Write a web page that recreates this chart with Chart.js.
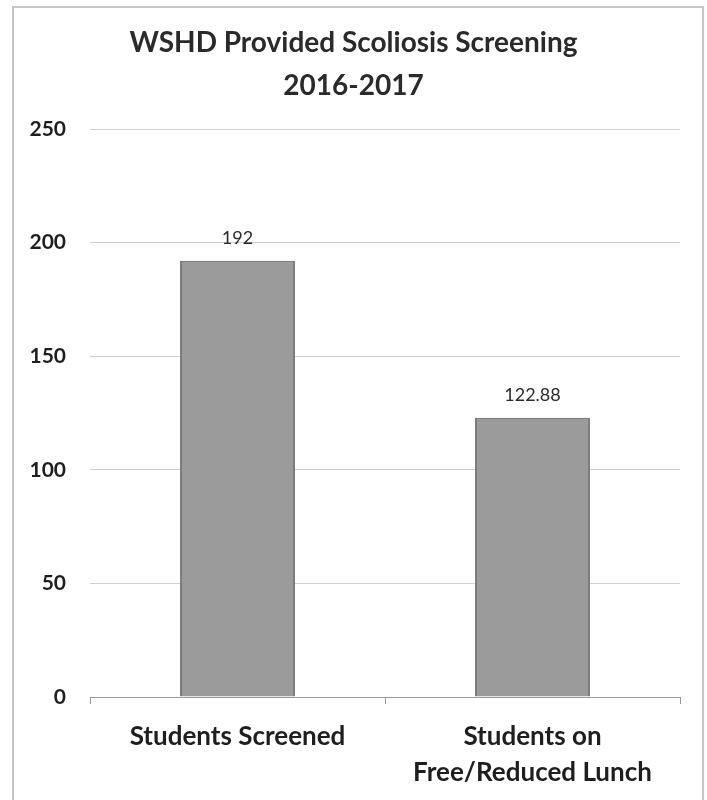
<!DOCTYPE html>
<html lang="en">
<head>
    <meta charset="UTF-8">
    <title>WSHD Provided Scoliosis Screening 2016-2017</title>
    <style>
        body {
            margin: 0;
            padding: 0;
            background: #fff;
            font-family: Lato, "Open Sans", Arial, sans-serif;
        }

        /* thin grey frame round the chart */
        .frame {
            position: absolute;
            left: 12px;
            top: 6px;
            width: 688px;
            height: 900px;
            border: 2px solid #c6c6c6;
        }

        .chart-box {
            position: absolute;
            left: 0;
            top: 0;
            width: 707px;
            height: 800px;
        }
    </style>
</head>
<body>
    <div class="frame"></div>
    <div class="chart-box">
        <canvas id="screeningChart" width="707" height="800"></canvas>
    </div>

    <script src="https://cdn.jsdelivr.net/npm/chart.js"></script>
    <script>
        // Chart data
        const titleLines = ['WSHD Provided Scoliosis Screening', '2016-2017'];
        const categories = [['Students Screened'], ['Students on', 'Free/Reduced Lunch']];
        const studentCounts = [192, 122.88];
        const valueLabels = ['192', '122.88'];
        const yTicks = [0, 50, 100, 150, 200, 250];

        // Writes the value above each bar
        const valueLabelPlugin = {
            id: 'valueLabels',
            afterDatasetsDraw(chart) {
                const ctx = chart.ctx;
                const meta = chart.getDatasetMeta(0);
                ctx.save();
                ctx.font = '18px Lato, "Open Sans", sans-serif';
                ctx.fillStyle = '#2a2a2a';
                ctx.textAlign = 'center';
                ctx.textBaseline = 'middle';
                meta.data.forEach(function(bar, i) {
                    ctx.fillText(valueLabels[i], bar.x, bar.y - 23);
                });
                ctx.restore();
            }
        };

        const ctx = document.getElementById('screeningChart').getContext('2d');
        new Chart(ctx, {
            type: 'bar',
            data: {
                labels: categories,
                datasets: [{
                    data: studentCounts,
                    backgroundColor: '#9b9b9b',
                    borderColor: '#7d7d7d',
                    borderWidth: 2,
                    categoryPercentage: 1,
                    barPercentage: 0.39
                }]
            },
            options: {
                responsive: false,
                animation: false,
                layout: {
                    padding: { left: 27, right: 27, top: 0, bottom: 0 }
                },
                plugins: {
                    legend: { display: false },
                    tooltip: { enabled: false },
                    title: {
                        display: true,
                        text: titleLines,
                        color: '#2a2a2a',
                        font: { family: 'Lato', size: 28, weight: 'bold', lineHeight: '43px' },
                        padding: { top: 21, bottom: 22 }
                    }
                },
                scales: {
                    x: {
                        offset: true,
                        grid: {
                            display: true,
                            drawOnChartArea: false,
                            drawTicks: true,
                            tickLength: 7,
                            color: '#999'
                        },
                        border: { display: true, color: '#999', width: 1 },
                        ticks: {
                            color: '#1e1e1e',
                            padding: 15,
                            maxRotation: 0,
                            font: { family: 'Lato', size: 26, weight: 'bold', lineHeight: '36px' }
                        },
                        afterFit: function(scale) {
                            scale.height = 103;
                        }
                    },
                    y: {
                        min: yTicks[0],
                        max: yTicks[yTicks.length - 1],
                        afterBuildTicks: function(scale) {
                            scale.ticks = yTicks.map(function(v) { return { value: v }; });
                        },
                        grid: {
                            color: '#cfcfcf',
                            drawTicks: false
                        },
                        border: { display: false },
                        ticks: {
                            color: '#1e1e1e',
                            padding: 24,
                            font: { family: 'Lato', size: 21, weight: 'bold' }
                        },
                        afterFit: function(scale) {
                            scale.width = 63;
                        }
                    }
                }
            },
            plugins: [valueLabelPlugin]
        });
    </script>
</body>
</html>
